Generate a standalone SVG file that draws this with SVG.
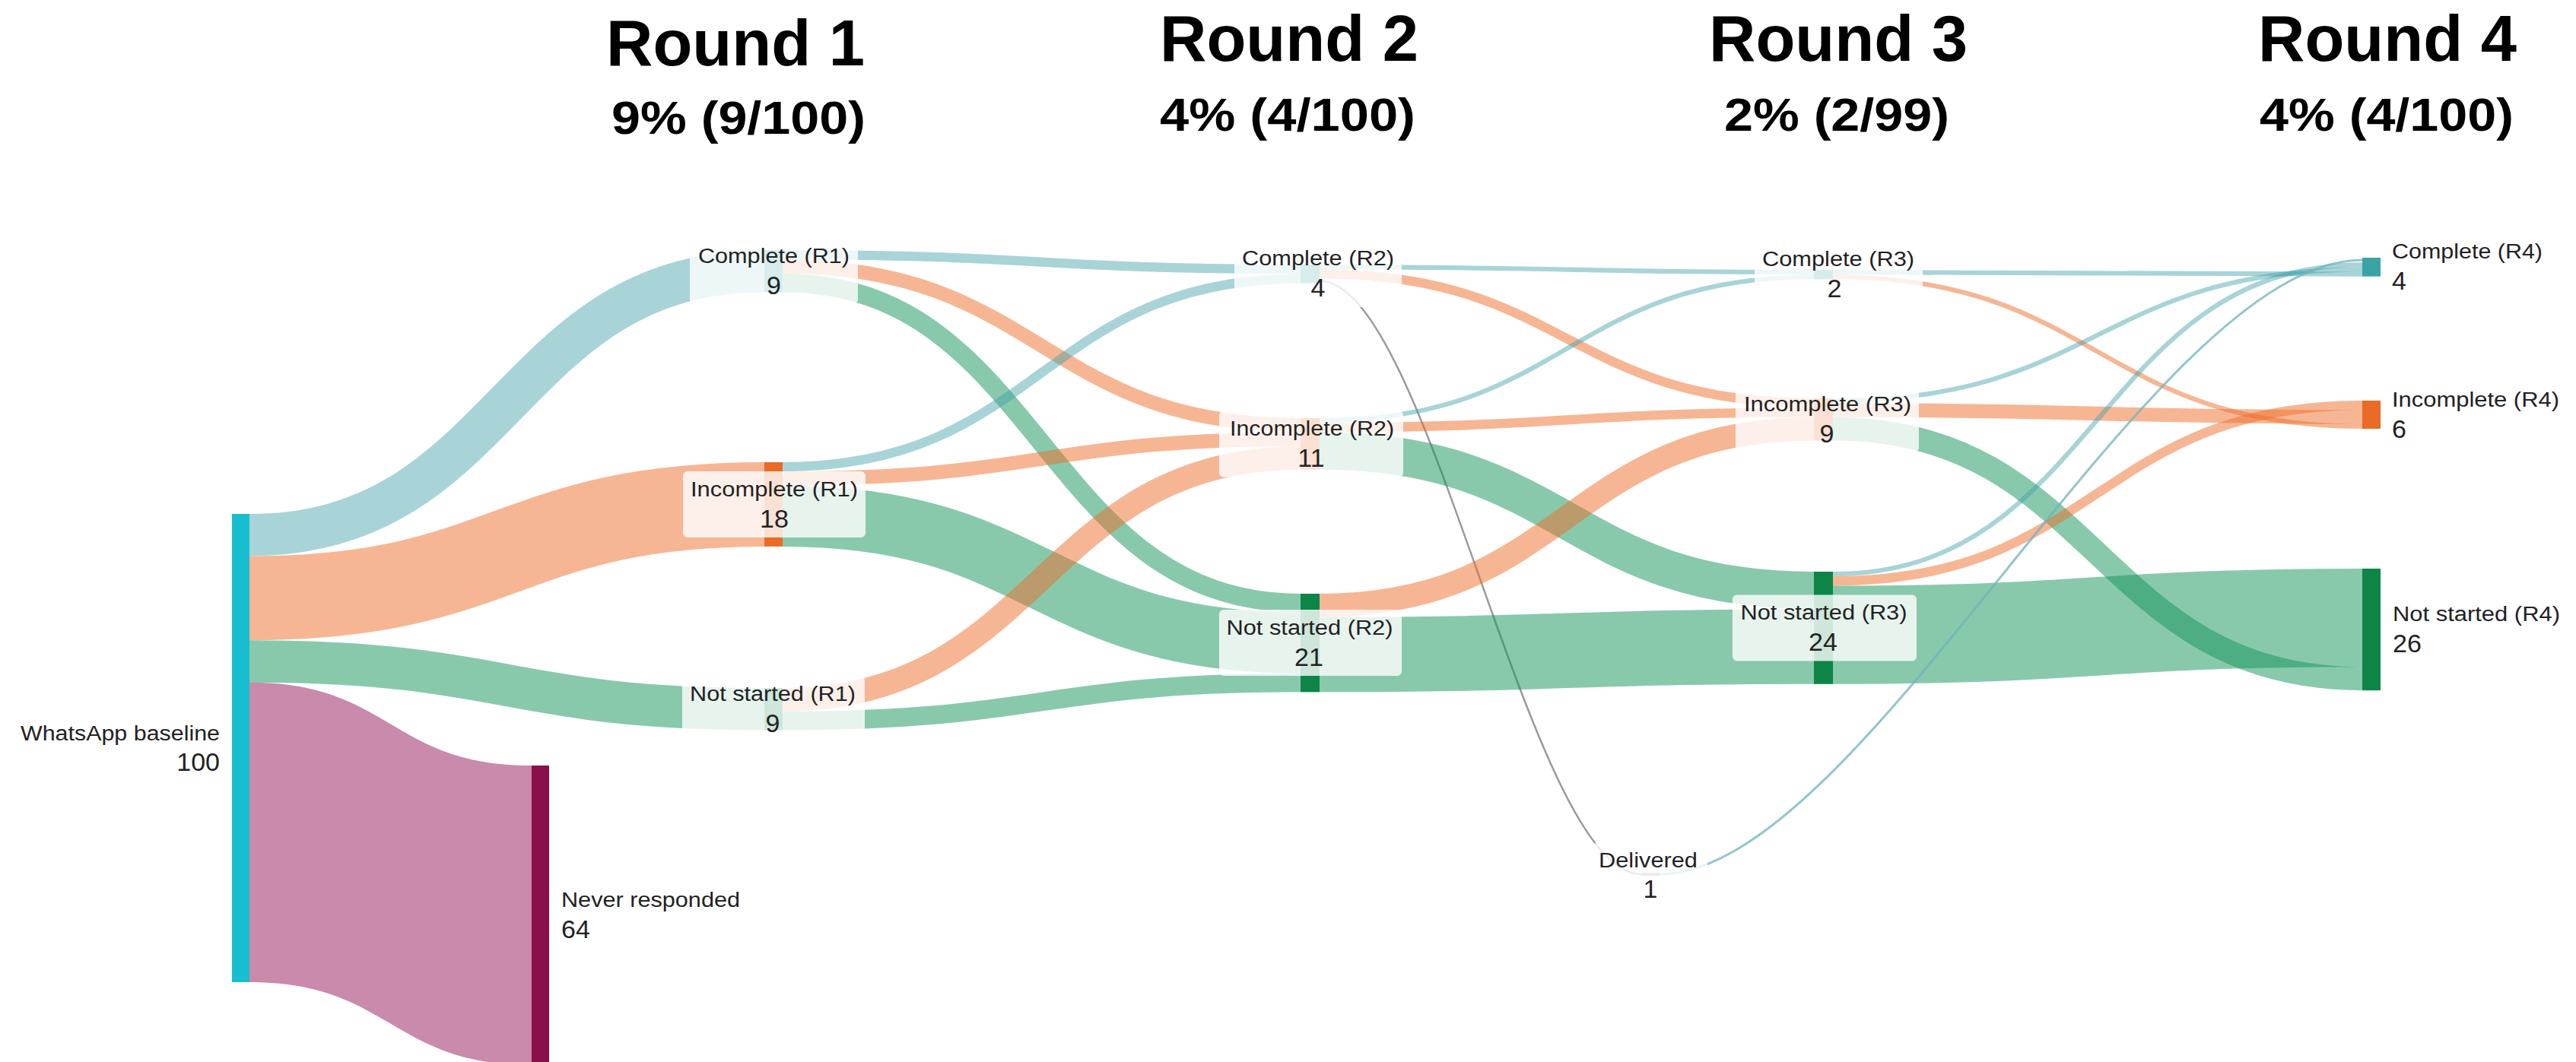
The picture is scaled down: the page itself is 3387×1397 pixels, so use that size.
<svg xmlns="http://www.w3.org/2000/svg" width="3387" height="1397" viewBox="0 0 3387 1397">
<style>
.bg{fill:#fff}
.lc{fill:none;stroke:#3f9fa8;stroke-opacity:.45}
.li{fill:none;stroke:#ee6e2a;stroke-opacity:.5}
.ln{fill:none;stroke:#11935a;stroke-opacity:.5}
.lnr{fill:#931557;fill-opacity:.5}
.ldg{fill:none;stroke:#9a9a9a;stroke-width:2.5}
.ldc{fill:none;stroke:#6fb3ba;stroke-opacity:.75;stroke-width:3}
.nc{fill:#3aa3a6}
.ni{fill:#e96b25}
.nn{fill:#0d8547}
.box{fill:#fff;fill-opacity:.8}
text{font-family:"Liberation Sans",Arial,sans-serif;fill:#222}
.lab{font-size:27px}
.num{font-size:34px}
.mid{text-anchor:middle}
.end{text-anchor:end}
.title{font-size:85px;font-weight:bold;fill:#000;text-anchor:middle}
.sub{font-size:62px;font-weight:bold;fill:#000;text-anchor:middle}
</style>
<rect class="bg" x="0" y="0" width="3387" height="1397"/>
<g id="titles">
<text class="title" x="967" y="86">Round 1</text>
<text class="sub" x="971" y="176" textLength="334" lengthAdjust="spacingAndGlyphs">9% (9/100)</text>
<text class="title" x="1695" y="80">Round 2</text>
<text class="sub" x="1693" y="172" textLength="336" lengthAdjust="spacingAndGlyphs">4% (4/100)</text>
<text class="title" x="2417" y="80">Round 3</text>
<text class="sub" x="2415" y="172" textLength="296" lengthAdjust="spacingAndGlyphs">2% (2/99)</text>
<text class="title" x="3139" y="80">Round 4</text>
<text class="sub" x="3138" y="172" textLength="334" lengthAdjust="spacingAndGlyphs">4% (4/100)</text>
</g>
<g id="connectors">
<path class="lnr" d="M328,897.8 C513.5,897.8 513.5,1007 699,1007 L699,1401.2 C513.5,1401.2 513.5,1292 328,1292 Z"/>
<path class="lc" stroke-width="55.4" d="M328,703.7 C666.5,703.7 666.5,356.7 1005,356.7"/>
<path class="li" stroke-width="110.9" d="M328,786.85 C666.5,786.85 666.5,663.45 1005,663.45"/>
<path class="ln" stroke-width="55.4" d="M328,870.05 C666.5,870.05 666.5,932.7 1005,932.7"/>
<path class="lc" stroke-width="12.32" d="M1029,335.16 C1369.5,335.16 1369.5,354.16 1710,354.16"/>
<path class="li" stroke-width="18.48" d="M1029,350.56 C1369.5,350.56 1369.5,559.24 1710,559.24"/>
<path class="ln" stroke-width="24.64" d="M1029,372.12 C1369.5,372.12 1369.5,793.32 1710,793.32"/>
<path class="lc" stroke-width="12.32" d="M1029,614.16 C1369.5,614.16 1369.5,366.48 1710,366.48"/>
<path class="li" stroke-width="18.48" d="M1029,629.56 C1369.5,629.56 1369.5,577.72 1710,577.72"/>
<path class="ln" stroke-width="80.08" d="M1029,678.84 C1369.5,678.84 1369.5,845.68 1710,845.68"/>
<path class="li" stroke-width="30.8" d="M1029,920.4 C1369.5,920.4 1369.5,602.36 1710,602.36"/>
<path class="ln" stroke-width="24.64" d="M1029,948.12 C1369.5,948.12 1369.5,898.04 1710,898.04"/>
<path class="lc" stroke-width="6.16" d="M1735,351.08 C2060,351.08 2060,358.08 2385,358.08"/>
<path class="li" stroke-width="12.32" d="M1735,360.32 C2060,360.32 2060,530.16 2385,530.16"/>
<path class="ldg" d="M1735,369.5 C1880,369.5 2010,1150 2158,1150"/>
<path class="lc" stroke-width="6.16" d="M1735,553.08 C2060,553.08 2060,364.24 2385,364.24"/>
<path class="li" stroke-width="12.32" d="M1735,562.32 C2060,562.32 2060,542.48 2385,542.48"/>
<path class="ln" stroke-width="49.28" d="M1735,593.12 C2060,593.12 2060,776.64 2385,776.64"/>
<path class="li" stroke-width="30.8" d="M1735,796.4 C2060,796.4 2060,564.04 2385,564.04"/>
<path class="ln" stroke-width="98.56" d="M1735,861.08 C2060,861.08 2060,850.56 2385,850.56"/>
<path class="lc" stroke-width="6.16" d="M2410,358.08 C2758,358.08 2758,360.56 3106,360.56"/>
<path class="li" stroke-width="6.16" d="M2410,364.24 C2758,364.24 2758,560.88 3106,560.88"/>
<path class="lc" stroke-width="6.16" d="M2410,527.08 C2758,527.08 2758,354.4 3106,354.4"/>
<path class="li" stroke-width="18.48" d="M2410,539.4 C2758,539.4 2758,548.56 3106,548.56"/>
<path class="ln" stroke-width="30.8" d="M2410,564.04 C2758,564.04 2758,892.76 3106,892.76"/>
<path class="lc" stroke-width="6.16" d="M2410,755.08 C2758,755.08 2758,348.24 3106,348.24"/>
<path class="li" stroke-width="12.32" d="M2410,764.32 C2758,764.32 2758,533.16 3106,533.16"/>
<path class="ln" stroke-width="129.36" d="M2410,835.16 C2758,835.16 2758,812.68 3106,812.68"/>
<path class="ldc" d="M2182,1150 C2450,1150 2830,342 3106,342"/>
</g>
<g id="node-baseline">
<rect x="305" y="676" width="23" height="616" fill="#17becf"/>
<text class="lab end" x="289" y="974" textLength="262" lengthAdjust="spacingAndGlyphs">WhatsApp baseline</text>
<text class="num end" x="289" y="1014">100</text>
</g>
<g id="node-never-responded">
<rect x="699" y="1007" width="23" height="395" fill="#8b0f4b"/>
<text class="lab" x="738" y="1193" textLength="235" lengthAdjust="spacingAndGlyphs">Never responded</text>
<text class="num" x="738" y="1234">64</text>
</g>
<g id="node-complete-r1">
<rect class="nc" x="1005" y="329" width="24" height="55.4"/>
<rect class="box" x="907" y="313" width="221" height="87" rx="6"/>
<text class="lab mid" x="1017.5" y="345.7" textLength="199" lengthAdjust="spacingAndGlyphs">Complete (R1)</text>
<text class="num mid" x="1017.5" y="386.7">9</text>
</g>
<g id="node-incomplete-r1">
<rect class="ni" x="1005" y="608" width="24" height="110.9"/>
<rect class="box" x="898" y="620" width="240" height="87" rx="6"/>
<text class="lab mid" x="1018" y="652.5" textLength="220" lengthAdjust="spacingAndGlyphs">Incomplete (R1)</text>
<text class="num mid" x="1018" y="693.5">18</text>
</g>
<g id="node-notstarted-r1">
<rect class="nn" x="1005" y="905" width="24" height="55.4"/>
<rect class="box" x="897" y="889" width="240" height="87" rx="6"/>
<text class="lab mid" x="1016" y="921.7" textLength="218" lengthAdjust="spacingAndGlyphs">Not started (R1)</text>
<text class="num mid" x="1016" y="962.7">9</text>
</g>
<g id="node-complete-r2">
<rect class="nc" x="1710" y="348" width="25" height="24.64"/>
<rect class="box" x="1623" y="317" width="220" height="87" rx="6"/>
<text class="lab mid" x="1733" y="349.3" textLength="200" lengthAdjust="spacingAndGlyphs">Complete (R2)</text>
<text class="num mid" x="1733" y="390.3">4</text>
</g>
<g id="node-incomplete-r2">
<rect class="ni" x="1710" y="550" width="25" height="67.76"/>
<rect class="box" x="1603" y="540.5" width="242" height="87" rx="6"/>
<text class="lab mid" x="1725" y="572.9" textLength="216" lengthAdjust="spacingAndGlyphs">Incomplete (R2)</text>
<text class="num mid" x="1724" y="613.9">11</text>
</g>
<g id="node-notstarted-r2">
<rect class="nn" x="1710" y="781" width="25" height="129.36"/>
<rect class="box" x="1603" y="802" width="240" height="87" rx="6"/>
<text class="lab mid" x="1722" y="834.7" textLength="219" lengthAdjust="spacingAndGlyphs">Not started (R2)</text>
<text class="num mid" x="1721" y="875.7">21</text>
</g>
<g id="node-complete-r3">
<rect class="nc" x="2385" y="355" width="25" height="12.32"/>
<rect class="box" x="2307" y="317.7" width="221" height="87" rx="6"/>
<text class="lab mid" x="2417" y="350.2" textLength="200" lengthAdjust="spacingAndGlyphs">Complete (R3)</text>
<text class="num mid" x="2412" y="391.2">2</text>
</g>
<g id="node-incomplete-r3">
<rect class="ni" x="2385" y="524" width="25" height="55.44"/>
<rect class="box" x="2282" y="508" width="241" height="87" rx="6"/>
<text class="lab mid" x="2403" y="540.7" textLength="220" lengthAdjust="spacingAndGlyphs">Incomplete (R3)</text>
<text class="num mid" x="2402" y="581.7">9</text>
</g>
<g id="node-notstarted-r3">
<rect class="nn" x="2385" y="752" width="25" height="147.84"/>
<rect class="box" x="2278" y="782.4" width="242" height="87" rx="6"/>
<text class="lab mid" x="2398" y="814.9" textLength="219" lengthAdjust="spacingAndGlyphs">Not started (R3)</text>
<text class="num mid" x="2397" y="855.9">24</text>
</g>
<g id="node-delivered">
<rect x="2158" y="1148" width="24" height="4" fill="#9a9a9a"/>
<rect class="box" x="2095" y="1108" width="150" height="87" rx="6"/>
<text class="lab mid" x="2167" y="1141" textLength="130" lengthAdjust="spacingAndGlyphs">Delivered</text>
<text class="num mid" x="2170" y="1181">1</text>
</g>
<g id="node-complete-r4">
<rect class="nc" x="3106" y="339" width="24" height="24.64"/>
<text class="lab" x="3145" y="340.3" textLength="198" lengthAdjust="spacingAndGlyphs">Complete (R4)</text>
<text class="num" x="3145" y="381.3">4</text>
</g>
<g id="node-incomplete-r4">
<rect class="ni" x="3106" y="527" width="24" height="36.96"/>
<text class="lab" x="3145" y="534.5" textLength="220" lengthAdjust="spacingAndGlyphs">Incomplete (R4)</text>
<text class="num" x="3145" y="575.5">6</text>
</g>
<g id="node-notstarted-r4">
<rect class="nn" x="3106" y="748" width="24" height="160.16"/>
<text class="lab" x="3146" y="817" textLength="220" lengthAdjust="spacingAndGlyphs">Not started (R4)</text>
<text class="num" x="3146" y="858">26</text>
</g>
</svg>
